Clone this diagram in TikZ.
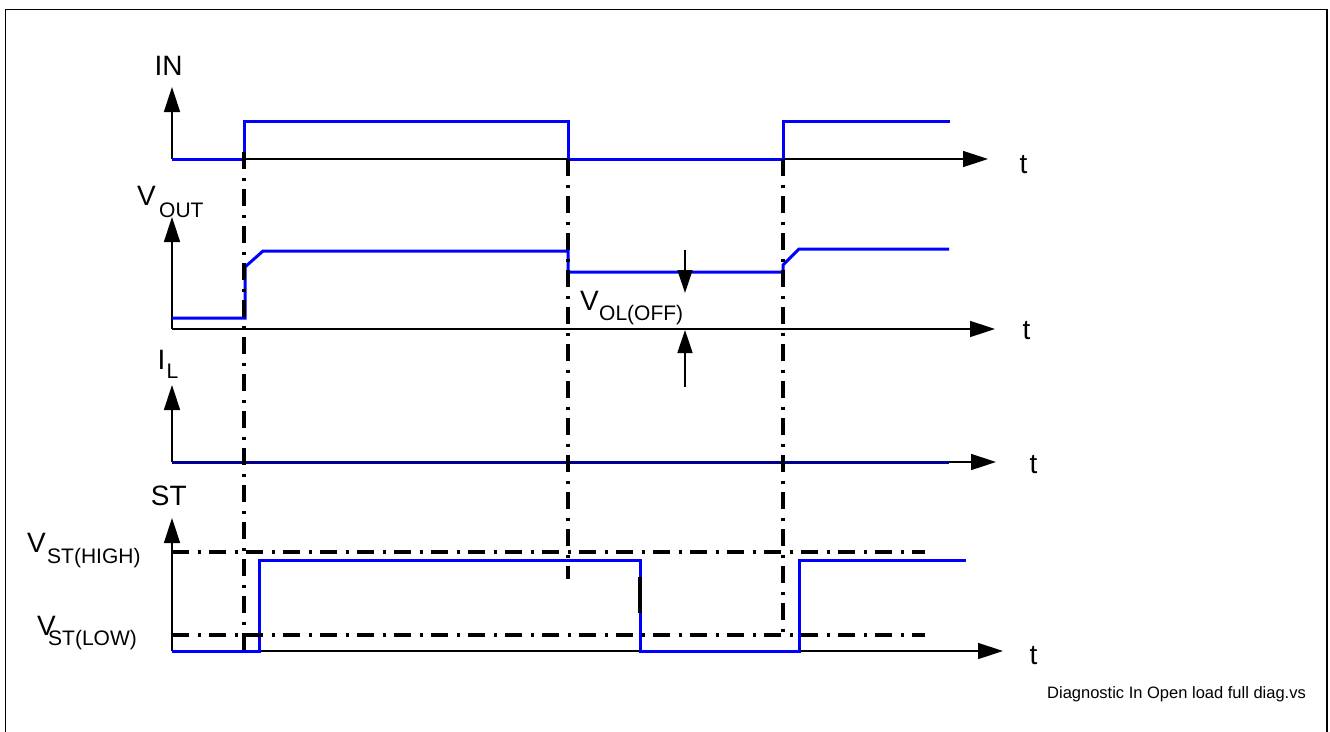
\documentclass[tikz,border=0pt]{standalone}
\usepackage{fontspec}
\setmainfont{Liberation Sans}
\usetikzlibrary{arrows.meta}
\tikzset{
  axisline/.style={draw=black, line width=1.5pt, -{Triangle[length=25pt,width=16pt]}},
  sigline/.style={draw={rgb,255:red,0;green,0;blue,255}, line width=3pt, line join=miter},
  curline/.style={draw={rgb,255:red,0;green,0;blue,140}, line width=3pt},
  dashdot/.style={draw=black, line width=3.5pt, dash pattern=on 17pt off 8.5pt on 3pt off 8.5pt},
  dimarrow/.style={draw=black, line width=1.5pt, -{Triangle[length=23pt,width=15pt]}},
  big/.style={inner sep=0pt, anchor=base west, font=\fontsize{28}{30}\selectfont},
  sub/.style={inner sep=0pt, anchor=base west, font=\fontsize{21}{23}\selectfont},
  foot/.style={inner sep=0pt, anchor=base west, font=\fontsize{16.5}{18}\selectfont},
}
\begin{document}
\begin{tikzpicture}[x=1pt,y=-1pt]
\useasboundingbox (0,0) rectangle (1330,731);
% frame
\coordinate (fbl) at (5.5,735);
\coordinate (ftl) at (5.5,9.5);
\coordinate (ftr) at (1327,9.5);
\coordinate (fbr) at (1327,735);
\draw[line width=1.5pt] (fbl) -- (ftl) -- (ftr) -- (fbr);

% axes origins and ends
\coordinate (inO) at (172,159);  \coordinate (inY) at (172,87);  \coordinate (inX) at (988,159);
\coordinate (voO) at (172,329);  \coordinate (voY) at (172,217); \coordinate (voX) at (995,329);
\coordinate (ilO) at (172,462);  \coordinate (ilY) at (172,385); \coordinate (ilX) at (996,462);
\coordinate (stO) at (172,651);  \coordinate (stY) at (172,518); \coordinate (stX) at (1003,651);

\draw[axisline] (inO) -- (inY);
\draw[axisline] (inO) -- (inX);
\draw[axisline] (voO) -- (voY);
\draw[axisline] (voO) -- (voX);
\draw[axisline] (ilO) -- (ilY);
\draw[axisline] (ilO) -- (ilX);
\draw[axisline] (stO) -- (stY);
\draw[axisline] (stO) -- (stX);

% signals
\draw[sigline] (inO) -- (244,159) -- (244,121) -- (568,121) -- (568,159) -- (783,159) -- (783,121) -- (950,121);
\draw[sigline] (172,318) -- (245,318) -- (245,267) -- (263,251) -- (568,251) -- (568,272) -- (783,272) -- (783,265) -- (799,249) -- (949,249);
\draw[curline] (ilO) -- (949,462);
\draw[sigline] (stO) -- (259,651) -- (259,560) -- (640,560) -- (640,651) -- (799,651) -- (799,560) -- (966,560);

% threshold lines
\coordinate (hiA) at (172,552); \coordinate (hiB) at (925,552);
\coordinate (loA) at (172,635); \coordinate (loB) at (925,635);
\draw[dashdot] (hiA) -- (hiB);
\draw[dashdot] (loA) -- (loB);

% vertical markers
\coordinate (m1a) at (244,152); \coordinate (m1b) at (244,651);
\coordinate (m2a) at (568,159); \coordinate (m2b) at (568,579);
\coordinate (m3a) at (783,159); \coordinate (m3b) at (783,633);
\draw[dashdot] (m1a) -- (m1b);
\draw[dashdot] (m2a) -- (m2b);
\draw[dashdot] (m3a) -- (m3b);
\coordinate (m4a) at (640,577); \coordinate (m4b) at (640,613);
\draw[draw=black, line width=3.5pt] (m4a) -- (m4b);

% V_OL(OFF) dimension arrows
\coordinate (da) at (685,250); \coordinate (db) at (685,293);
\coordinate (ua) at (685,387); \coordinate (ub) at (685,330);
\draw[dimarrow] (da) -- (db);
\draw[dimarrow] (ua) -- (ub);

% labels
\node[big] (lIN) at (154.5,75) {IN};
\node[big] (lVo) at (137,205) {V};
\node[sub] (lVoS) at (159,217) {OUT};
\node[big] (lIl) at (157.5,369) {I};
\node[sub] (lIlS) at (166.5,378) {L};
\node[big] (lST) at (150.7,505) {ST};
\node[big] (lVh) at (27,552) {V};
\node[sub] (lVhS) at (47,563) {ST(HIGH)};
\node[big] (lVl) at (37,635) {V\kern-7.7pt\raisebox{-10pt}{\fontsize{21}{23}\selectfont ST(LOW)}};
\node[big] (lVol) at (580,310) {V};
\node[sub] (lVolS) at (599,320) {OL(OFF)};
\node[big] (t1) at (1019.5,173) {t};
\node[big] (t2) at (1022.5,339) {t};
\node[big] (t3) at (1029.5,473) {t};
\node[big] (t4) at (1029.5,664) {t};
\node[foot] (fn) at (1047,698) {Diagnostic In Open load full diag.vs};
\end{tikzpicture}
\end{document}
